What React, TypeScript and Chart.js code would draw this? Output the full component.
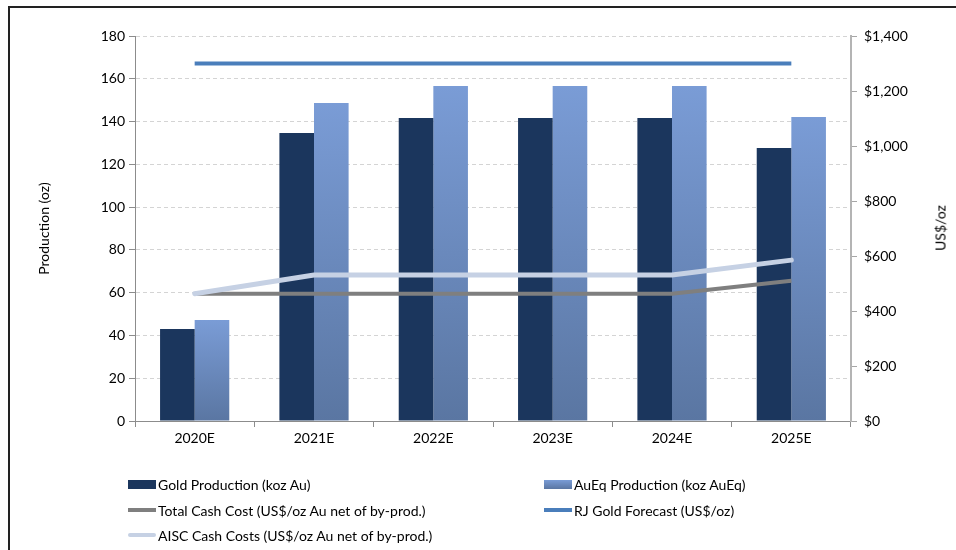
import React, { useEffect, useRef } from "react";
import { Chart, registerables } from "chart.js";

Chart.register(...registerables);

const categories = ["2020E", "2021E", "2022E", "2023E", "2024E", "2025E"];
const goldProduction = [43, 134.6, 141.7, 141.7, 141.7, 127.6];
const aueqProduction = [47.2, 148.7, 156.6, 156.6, 156.6, 142.1];
const totalCashCost = [463, 463, 463, 463, 463, 510];
const aiscCashCost = [463, 531, 531, 531, 531, 585];
const rjGoldForecast = [1300, 1300, 1300, 1300, 1300, 1300];

const productionTicks = [0, 20, 40, 60, 80, 100, 120, 140, 160, 180];
const priceTicks = [0, 200, 400, 600, 800, 1000, 1200, 1400];

const FONT = "Lato, 'Open Sans', sans-serif";

const COLORS = {
  gold: "#1b365d",
  aueqTop: "#7a9cd6",
  aueqBottom: "#5a76a2",
  total: "#7f7f7f",
  aisc: "#c6d1e4",
  rj: "#4a7ebb",
};

const legendItems = [
  { label: "Gold Production (koz Au)", color: COLORS.gold, kind: "bar", col: 0, row: 0 },
  { label: "AuEq Production (koz AuEq)", color: "linear-gradient(#7a9cd6,#5a76a2)", kind: "bar", col: 1, row: 0 },
  { label: "Total Cash Cost (US$/oz Au net of by-prod.)", color: COLORS.total, kind: "line", col: 0, row: 1 },
  { label: "RJ Gold Forecast (US$/oz)", color: COLORS.rj, kind: "line", col: 1, row: 1 },
  { label: "AISC Cash Costs (US$/oz Au net of by-prod.)", color: COLORS.aisc, kind: "line", col: 0, row: 2 },
];

export default function App() {
  const canvasRef = useRef<HTMLCanvasElement | null>(null);

  useEffect(() => {
    const canvas = canvasRef.current;
    if (!canvas) return;

    const aueqGradient = (context: any) => {
      const chart = context.chart;
      const { ctx, chartArea } = chart;
      if (!chartArea || context.dataIndex === undefined) return COLORS.aueqTop;
      const yScale = chart.scales.y;
      const v = aueqProduction[context.dataIndex];
      const top = yScale.getPixelForValue(v);
      const bottom = yScale.getPixelForValue(0);
      const g = ctx.createLinearGradient(0, top, 0, bottom);
      g.addColorStop(0, COLORS.aueqTop);
      g.addColorStop(1, COLORS.aueqBottom);
      return g;
    };

    const chart = new Chart(canvas, {
      type: "bar",
      data: {
        labels: categories,
        datasets: [
          {
            type: "bar",
            label: "Gold Production (koz Au)",
            data: goldProduction,
            backgroundColor: COLORS.gold,
            yAxisID: "y",
            order: 2,
            categoryPercentage: 0.58,
            barPercentage: 1,
          },
          {
            type: "bar",
            label: "AuEq Production (koz AuEq)",
            data: aueqProduction,
            backgroundColor: aueqGradient,
            yAxisID: "y",
            order: 2,
            categoryPercentage: 0.58,
            barPercentage: 1,
          },
          {
            type: "line",
            label: "Total Cash Cost (US$/oz Au net of by-prod.)",
            data: totalCashCost,
            borderColor: COLORS.total,
            borderWidth: 4,
            pointRadius: 0,
            yAxisID: "y1",
            order: 1,
            tension: 0,
          },
          {
            type: "line",
            label: "RJ Gold Forecast (US$/oz)",
            data: rjGoldForecast,
            borderColor: COLORS.rj,
            borderWidth: 4,
            pointRadius: 0,
            yAxisID: "y1",
            order: 1,
          },
          {
            type: "line",
            label: "AISC Cash Costs (US$/oz Au net of by-prod.)",
            data: aiscCashCost,
            borderColor: COLORS.aisc,
            borderWidth: 5,
            pointRadius: 0,
            yAxisID: "y1",
            order: 0,
            borderCapStyle: "round",
          },
        ],
      },
      options: {
        responsive: false,
        animation: false,
        maintainAspectRatio: false,
        layout: { padding: { left: 35, right: 8, top: 36, bottom: 99 } },
        plugins: {
          legend: { display: false },
          tooltip: { enabled: false },
        },
        scales: {
          x: {
            grid: {
              display: true,
              drawOnChartArea: false,
              offset: true,
              tickLength: 6,
              color: "#8c8c8c",
            },
            border: { display: true, color: "#8c8c8c", width: 1 },
            ticks: { color: "#000", font: { family: FONT, size: 14 }, padding: 3 },
            afterFit: (scale: any) => {
              scale.height = 30;
            },
          },
          y: {
            position: "left",
            min: 0,
            max: 180,
            afterBuildTicks: (scale: any) => {
              scale.ticks = productionTicks.map((v) => ({ value: v }));
            },
            grid: {
              color: "#d4d4d4",
              tickColor: "#8c8c8c",
              tickLength: 6,
              tickBorderDash: [],
            },
            border: { display: true, color: "#8c8c8c", width: 1, dash: [4, 3] },
            ticks: { color: "#000", font: { family: FONT, size: 14 }, padding: 4 },
            title: {
              display: true,
              text: "Production (oz)",
              color: "#000",
              font: { family: FONT, size: 14 },
              padding: { top: 1, bottom: 2 },
            },
            afterFit: (scale: any) => {
              scale.width = 100;
            },
          },
          y1: {
            position: "right",
            min: 0,
            max: 1400,
            afterBuildTicks: (scale: any) => {
              scale.ticks = priceTicks.map((v) => ({ value: v }));
            },
            grid: {
              drawOnChartArea: false,
              color: "#a6a6a6",
              tickLength: 6,
            },
            border: { display: true, color: "#b4b4b4", width: 2 },
            ticks: {
              color: "#000",
              font: { family: FONT, size: 14 },
              padding: 7,
              callback: (v: any) => "$" + Number(v).toLocaleString("en-US"),
            },
            afterFit: (scale: any) => {
              scale.width = 97;
            },
          },
        },
      },
    });

    return () => {
      chart.destroy();
    };
  }, []);

  const colX = [128, 544];
  const rowY = [475, 501, 526];

  return (
    <div style={{ position: "fixed", left: 0, top: 0, width: 956, height: 550, background: "#fff", overflow: "hidden" }}>
      <div
        style={{
          position: "absolute",
          left: 8,
          top: 6,
          width: 1000,
          height: 600,
          borderLeft: "2px solid #222",
          borderTop: "2px solid #222",
        }}
      />
      <canvas ref={canvasRef} width={956} height={550} style={{ position: "absolute", left: 0, top: 0 }} />
      <div
        style={{
          position: "absolute",
          left: 940,
          top: 228,
          transform: "translate(-50%, -50%) rotate(-90deg)",
          fontFamily: FONT,
          fontSize: 14,
          color: "#000",
          whiteSpace: "nowrap",
        }}
      >
        US$/oz
      </div>
      {legendItems.map((item, i) => (
        <div
          key={i}
          style={{
            position: "absolute",
            left: colX[item.col],
            top: rowY[item.row],
            height: 18,
            display: "flex",
            alignItems: "center",
            fontFamily: FONT,
            fontSize: 14,
            color: "#000",
            whiteSpace: "nowrap",
          }}
        >
          <span
            style={{
              display: "inline-block",
              width: 28,
              height: item.kind === "bar" ? 9 : 4,
              background: item.color,
              borderRadius: item.kind === "line" && item.row === 2 ? 2 : 0,
              marginRight: 2,
            }}
          />
          <span>{item.label}</span>
        </div>
      ))}
    </div>
  );
}
